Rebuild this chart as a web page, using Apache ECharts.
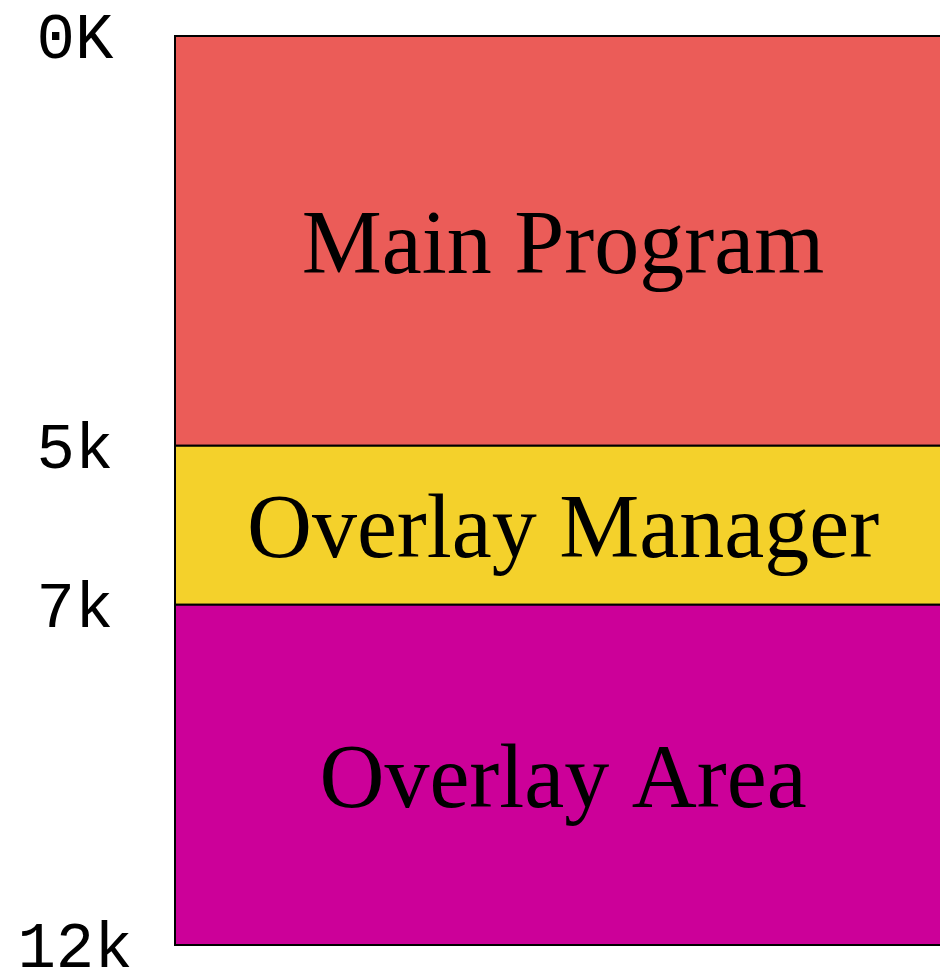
<!DOCTYPE html>
<html>
<head>
<meta charset="utf-8">
<script src="https://cdn.jsdelivr.net/npm/echarts@6/dist/echarts.min.js"></script>
<style>
  html, body { margin: 0; padding: 0; background: #fff; }
  #main { width: 940px; height: 974px; }
</style>
</head>
<body>
<div id="main"></div>
<script>
// memory layout with overlays (drawn not to scale)
const tickLabels = ['0K', '5k', '7k', '12k'];
// where each boundary sits on the drawing
const boundaries = [0, 5, 6.94, 11.09];
const segments = ['Main Program', 'Overlay Manager', 'Overlay Area'];
const colors = ['#eb5c58', '#f4d12b', '#cc0099'];

var data = segments.map((name, i) => ({
    name: name,
    value: [boundaries[i], boundaries[i + 1]]
}));

var myChart = echarts.init(document.getElementById('main'));

var option = {
    animation: false,
    // box runs off the right edge of the page
    grid: { left: 175, width: 776, top: 36, bottom: 29, outerBoundsMode: 'none', containLabel: false },
    xAxis: { type: 'value', min: 0, max: 1, show: false },
    yAxis: {
        type: 'value',
        inverse: true,
        min: boundaries[0],
        max: boundaries[boundaries.length - 1],
        axisLine: { show: false },
        axisTick: { show: false },
        splitLine: { show: false },
        axisLabel: {
            customValues: boundaries,
            margin: 100,
            align: 'center',
            verticalAlign: 'top',
            lineHeight: 10,
            fontFamily: 'Liberation Mono',
            fontSize: 64,
            color: '#000',
            formatter: function (v) {
                let i = boundaries.indexOf(v);
                return i >= 0 ? tickLabels[i] : '';
            }
        }
    },
    series: [{
        type: 'custom',
        data: data,
        renderItem: function (params, api) {
            let p0 = api.coord([0, api.value(0)]);
            let p1 = api.coord([1, api.value(1)]);
            return {
                type: 'rect',
                shape: { x: p0[0], y: p0[1], width: p1[0] - p0[0], height: p1[1] - p0[1] },
                style: { fill: colors[params.dataIndex], stroke: '#000', lineWidth: 2 },
                textContent: {
                    style: {
                        text: segments[params.dataIndex],
                        fontFamily: 'Liberation Serif',
                        fontSize: 90,
                        fill: '#000'
                    }
                },
                textConfig: { position: 'inside', offset: [0, 8] }
            };
        }
    }]
};

myChart.setOption(option);
</script>
</body>
</html>
